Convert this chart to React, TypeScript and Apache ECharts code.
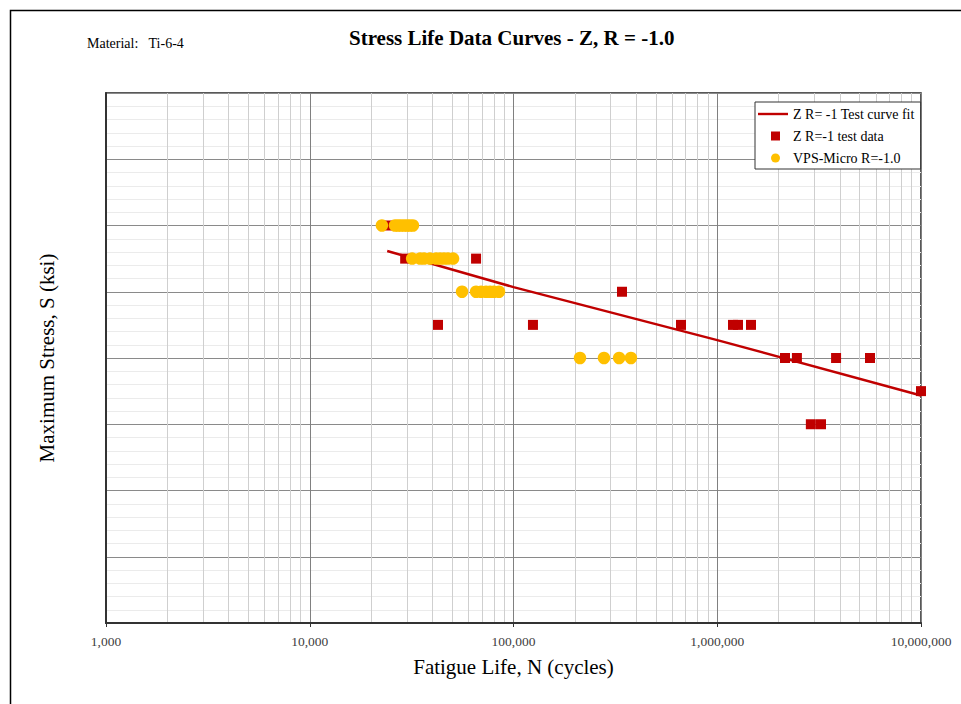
import React, { useEffect, useRef } from "react";
import * as echarts from "echarts";

// Curve fit
const fitN = [24000, 100000, 1000000, 10000000];
const fitS = [112.3, 101.4, 85.4, 68.7];

// Z R=-1 test data
const testN = [24500, 29400, 65500, 42600, 124600, 340800, 663800, 1195000, 1264000, 1464000, 2150000, 2460000, 3830000, 5620000, 10000000, 2880000, 3230000];
const testS = [120, 110, 110, 90, 90, 100, 90, 90, 90, 90, 80, 80, 80, 80, 70, 60, 60];

// VPS-Micro R=-1.0
const vpsN = [22600, 26200, 27100, 28000, 29000, 30000, 31000, 32100, 31800, 34800, 36400, 38900, 41700, 43600, 45600, 47700, 50500, 55900, 65500, 69300, 73300, 76700, 80200, 84900, 212000, 278000, 330000, 377000];
const vpsS = [120, 120, 120, 120, 120, 120, 120, 120, 110, 110, 110, 110, 110, 110, 110, 110, 110, 100, 100, 100, 100, 100, 100, 100, 80, 80, 80, 80];

// Minor (log) grid values on the x axis
const minorXTicks = [
  2000, 3000, 4000, 5000, 6000, 7000, 8000, 9000,
  20000, 30000, 40000, 50000, 60000, 70000, 80000, 90000,
  200000, 300000, 400000, 500000, 600000, 700000, 800000, 900000,
  2000000, 3000000, 4000000, 5000000, 6000000, 7000000, 8000000, 9000000,
];

const FONT = "'Liberation Serif', 'DejaVu Serif', serif";

export default function App() {
  const ref = useRef<HTMLDivElement>(null);
  useEffect(() => {
    if (!ref.current) return;
    const chart = echarts.init(ref.current, undefined, { renderer: "svg" });
    const zip = (a: number[], b: number[]) => a.map((v, i) => [v, b[i]]);
    chart.setOption({
      animation: false,
      backgroundColor: "#fff",
      textStyle: { fontFamily: FONT },
      title: [
        {
          text: "Stress Life Data Curves - Z, R = -1.0",
          left: 344,
          top: 22,
          textStyle: { fontFamily: FONT, fontSize: 21, fontWeight: "bold", color: "#000" },
        },
        {
          text: "Material:   Ti-6-4",
          left: 82,
          top: 31,
          textStyle: { fontFamily: FONT, fontSize: 14, fontWeight: "normal", color: "#000" },
        },
      ],
      graphic: [
        {
          type: "rect",
          left: 8,
          top: 8,
          shape: { width: 1000, height: 1000 },
          style: { fill: "none", stroke: "#000", lineWidth: 1.5 },
          silent: true,
        },
      ],
      legend: {
        orient: "vertical",
        left: 755,
        top: 102,
        padding: [5, 6, 4, 3],
        itemGap: 8,
        itemWidth: 30,
        itemHeight: 10,
        backgroundColor: "#fff",
        borderColor: "#333",
        borderWidth: 1,
        textStyle: { fontFamily: FONT, fontSize: 14, color: "#000" },
        data: [
          { name: "Z R= -1 Test curve fit", icon: "path://M0,0L0,0M30,10L30,10M0,3.8h30v2.4h-30z" },
          { name: "Z R=-1 test data", icon: "path://M0,0L0,0M30,10L30,10M13,0.5h9v9h-9z" },
          { name: "VPS-Micro R=-1.0", icon: "path://M0,0L0,0M30,10L30,10M13,5a4.5,4.5 0 1,0 9,0a4.5,4.5 0 1,0 -9,0z" },
        ],
      },
      grid: {
        left: 106,
        right: 40,
        top: 93,
        bottom: 81,
        show: true,
        borderColor: "#222",
        borderWidth: 1.5,
        backgroundColor: "transparent",
      },
      xAxis: {
        type: "log",
        logBase: 10,
        min: 1000,
        max: 10000000,
        name: "Fatigue Life, N (cycles)",
        nameLocation: "middle",
        nameGap: 33,
        nameTextStyle: { fontFamily: FONT, fontSize: 21, color: "#000", verticalAlign: "top" },
        axisLine: { show: true, lineStyle: { color: "#333", width: 2 } },
        axisTick: { show: true, length: 4, lineStyle: { color: "#333" } },
        axisLabel: {
          fontFamily: FONT,
          fontSize: 13.5,
          color: "#404040",
          margin: 11,
          formatter: (v: number) => Math.round(v).toLocaleString("en-US"),
        },
        splitLine: { show: true, lineStyle: { color: "#808080", width: 1 } },
      },
      yAxis: {
        type: "value",
        min: 0,
        max: 160,
        interval: 20,
        name: "Maximum Stress, S (ksi)",
        nameLocation: "middle",
        nameGap: 49,
        nameTextStyle: { fontFamily: FONT, fontSize: 21, color: "#000" },
        axisLine: { show: true, lineStyle: { color: "#333", width: 2 } },
        axisTick: { show: false },
        axisLabel: { show: false },
        splitLine: { show: true, lineStyle: { color: "#8a8a8a", width: 1 } },
        minorTick: { show: false, splitNumber: 5 },
        minorSplitLine: { show: true, lineStyle: { color: "#ebebeb", width: 1 } },
      },
      series: [
        {
          name: "minor-grid",
          type: "scatter",
          data: [],
          silent: true,
          z: 0,
          markLine: {
            silent: true,
            z: 0,
            symbol: ["none", "none"],
            label: { show: false },
            lineStyle: { color: "#cfcfcf", width: 1, type: "solid" },
            emphasis: { disabled: true },
            data: minorXTicks.map((v) => ({ xAxis: v })),
          },
        },
        {
          name: "Z R= -1 Test curve fit",
          type: "line",
          data: zip(fitN, fitS),
          showSymbol: false,
          symbol: "none",
          lineStyle: { color: "#c00000", width: 2.5 },
          itemStyle: { color: "#c00000" },
          z: 3,
        },
        {
          name: "Z R=-1 test data",
          type: "scatter",
          data: zip(testN, testS),
          symbol: "rect",
          symbolSize: 10,
          itemStyle: { color: "#c00000", opacity: 1 },
          z: 4,
        },
        {
          name: "VPS-Micro R=-1.0",
          type: "scatter",
          data: zip(vpsN, vpsS),
          symbol: "circle",
          symbolSize: 12.5,
          itemStyle: { color: "#ffc000", opacity: 1 },
          z: 5,
        },
      ],
    });
    return () => chart.dispose();
  }, []);
  return (
    <div
      ref={ref}
      style={{ position: "fixed", left: 0, top: 0, width: 961, height: 704, background: "#fff" }}
    />
  );
}
